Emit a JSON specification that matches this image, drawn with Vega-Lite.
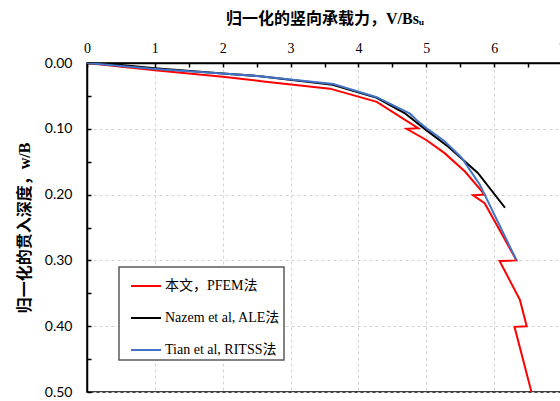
{
  "$schema": "https://vega.github.io/schema/vega-lite/v6.json",
  "width": 475,
  "height": 329,
  "autosize": {"type": "none"},
  "padding": {"left": 87, "top": 63, "right": 0, "bottom": 9},
  "background": "white",
  "view": {"stroke": "black", "strokeWidth": 1.5},
  "data": {
    "values": [
      {"series": "本文，PFEM法", "i": 0, "x": 0, "y": 0},
      {"series": "本文，PFEM法", "i": 1, "x": 1.0, "y": 0.011},
      {"series": "本文，PFEM法", "i": 2, "x": 2.0, "y": 0.021},
      {"series": "本文，PFEM法", "i": 3, "x": 2.6, "y": 0.028},
      {"series": "本文，PFEM法", "i": 4, "x": 3.58, "y": 0.039},
      {"series": "本文，PFEM法", "i": 5, "x": 4.27, "y": 0.059},
      {"series": "本文，PFEM法", "i": 6, "x": 4.88, "y": 0.099},
      {"series": "本文，PFEM法", "i": 7, "x": 4.71, "y": 0.1},
      {"series": "本文，PFEM法", "i": 8, "x": 5.0, "y": 0.117},
      {"series": "本文，PFEM法", "i": 9, "x": 5.27, "y": 0.137},
      {"series": "本文，PFEM法", "i": 10, "x": 5.57, "y": 0.165},
      {"series": "本文，PFEM法", "i": 11, "x": 5.86, "y": 0.2},
      {"series": "本文，PFEM法", "i": 12, "x": 5.69, "y": 0.201},
      {"series": "本文，PFEM法", "i": 13, "x": 5.86, "y": 0.213},
      {"series": "本文，PFEM法", "i": 14, "x": 6.33, "y": 0.3},
      {"series": "本文，PFEM法", "i": 15, "x": 6.08, "y": 0.301},
      {"series": "本文，PFEM法", "i": 16, "x": 6.38, "y": 0.36},
      {"series": "本文，PFEM法", "i": 17, "x": 6.48, "y": 0.4},
      {"series": "本文，PFEM法", "i": 18, "x": 6.3, "y": 0.401},
      {"series": "本文，PFEM法", "i": 19, "x": 6.55, "y": 0.5},
      {"series": "Nazem et al, ALE法", "i": 0, "x": 0, "y": 0},
      {"series": "Nazem et al, ALE法", "i": 1, "x": 0.5, "y": 0.003},
      {"series": "Nazem et al, ALE法", "i": 2, "x": 1.0, "y": 0.008},
      {"series": "Nazem et al, ALE法", "i": 3, "x": 2.0, "y": 0.016},
      {"series": "Nazem et al, ALE法", "i": 4, "x": 2.55, "y": 0.02},
      {"series": "Nazem et al, ALE法", "i": 5, "x": 3.62, "y": 0.033},
      {"series": "Nazem et al, ALE法", "i": 6, "x": 4.27, "y": 0.053},
      {"series": "Nazem et al, ALE法", "i": 7, "x": 4.68, "y": 0.076},
      {"series": "Nazem et al, ALE法", "i": 8, "x": 5.0, "y": 0.102},
      {"series": "Nazem et al, ALE法", "i": 9, "x": 5.32, "y": 0.127},
      {"series": "Nazem et al, ALE法", "i": 10, "x": 5.76, "y": 0.167},
      {"series": "Nazem et al, ALE法", "i": 11, "x": 6.16, "y": 0.22},
      {"series": "Tian et al, RITSS法", "i": 0, "x": 0, "y": 0},
      {"series": "Tian et al, RITSS法", "i": 1, "x": 1.0, "y": 0.009},
      {"series": "Tian et al, RITSS法", "i": 2, "x": 2.0, "y": 0.016},
      {"series": "Tian et al, RITSS法", "i": 3, "x": 2.55, "y": 0.02},
      {"series": "Tian et al, RITSS法", "i": 4, "x": 3.63, "y": 0.032},
      {"series": "Tian et al, RITSS法", "i": 5, "x": 4.27, "y": 0.052},
      {"series": "Tian et al, RITSS法", "i": 6, "x": 4.76, "y": 0.077},
      {"series": "Tian et al, RITSS法", "i": 7, "x": 4.86, "y": 0.087},
      {"series": "Tian et al, RITSS法", "i": 8, "x": 5.0, "y": 0.099},
      {"series": "Tian et al, RITSS法", "i": 9, "x": 5.27, "y": 0.119},
      {"series": "Tian et al, RITSS法", "i": 10, "x": 5.52, "y": 0.144},
      {"series": "Tian et al, RITSS法", "i": 11, "x": 5.79, "y": 0.185},
      {"series": "Tian et al, RITSS法", "i": 12, "x": 5.86, "y": 0.2},
      {"series": "Tian et al, RITSS法", "i": 13, "x": 6.33, "y": 0.3}
    ]
  },
  "mark": {"type": "line", "strokeWidth": 2, "clip": true},
  "encoding": {
    "x": {
      "field": "x",
      "type": "quantitative",
      "scale": {"domain": [0, 7], "nice": false, "zero": false},
      "axis": {
        "orient": "top",
        "title": "归一化的竖向承载力，V/Bsᵤ",
        "titleFont": "Liberation Serif, Noto Sans CJK SC",
        "titleFontSize": 16,
        "titleFontWeight": "bold",
        "titleColor": "black",
        "titlePadding": 15,
        "values": [0, 0.5, 1, 1.5, 2, 2.5, 3, 3.5, 4, 4.5, 5, 5.5, 6, 6.5, 7],
        "labelExpr": "datum.value % 1 === 0 ? format(datum.value, 'd') : ''",
        "labelFont": "Liberation Serif",
        "labelFontSize": 14,
        "labelColor": "black",
        "labelPadding": 12,
        "labelFlush": false,
        "labelOverlap": false,
        "tickSize": -4,
        "tickColor": "black",
        "tickWidth": 1.5,
        "domainColor": "black",
        "domainWidth": 1.5,
        "grid": true,
        "gridDash": [3, 3],
        "gridColor": {"condition": {"test": "datum.value % 1 !== 0", "value": "transparent"}, "value": "#d4d4d4"}
      }
    },
    "y": {
      "field": "y",
      "type": "quantitative",
      "scale": {"domain": [0, 0.5], "nice": false, "reverse": true},
      "axis": {
        "orient": "left",
        "title": "归一化的贯入深度，w/B",
        "titleFont": "Liberation Serif, Noto Sans CJK SC",
        "titleFontSize": 16,
        "titleFontWeight": "bold",
        "titleColor": "black",
        "titlePadding": 12,
        "values": [0, 0.05, 0.1, 0.15, 0.2, 0.25, 0.3, 0.35, 0.4, 0.45, 0.5],
        "labelExpr": "round(datum.value * 100) % 10 === 0 ? format(datum.value, '.2f') : ''",
        "labelFont": "Lato",
        "labelFontSize": 14,
        "labelColor": "black",
        "labelPadding": 19,
        "labelFlush": false,
        "labelOverlap": false,
        "tickSize": -4,
        "tickColor": "black",
        "tickWidth": 1.5,
        "domainColor": "black",
        "domainWidth": 1.5,
        "grid": true,
        "gridDash": [3, 3],
        "gridColor": {"condition": {"test": "round(datum.value * 100) % 10 !== 0", "value": "transparent"}, "value": "#d4d4d4"}
      }
    },
    "color": {
      "field": "series",
      "type": "nominal",
      "scale": {
        "domain": ["本文，PFEM法", "Nazem et al, ALE法", "Tian et al, RITSS法"],
        "range": ["#ff0000", "#000000", "#4472c4"]
      },
      "legend": {
        "title": null,
        "orient": "none",
        "legendX": 32,
        "legendY": 204,
        "direction": "vertical",
        "fillColor": "white",
        "strokeColor": "#595959",
        "padding": 3,
        "symbolOffset": 8,
        "symbolType": "stroke",
        "symbolSize": 900,
        "symbolStrokeWidth": 2,
        "labelFont": "Liberation Serif, Noto Sans CJK SC",
        "labelFontSize": 14,
        "labelColor": "black",
        "labelOffset": 3,
        "rowPadding": 9,
        "labelLimit": 300
      }
    },
    "order": {"field": "i", "type": "quantitative"}
  },
  "config": {
    "legend": {"strokeWidth": 1.5}
  }
}
